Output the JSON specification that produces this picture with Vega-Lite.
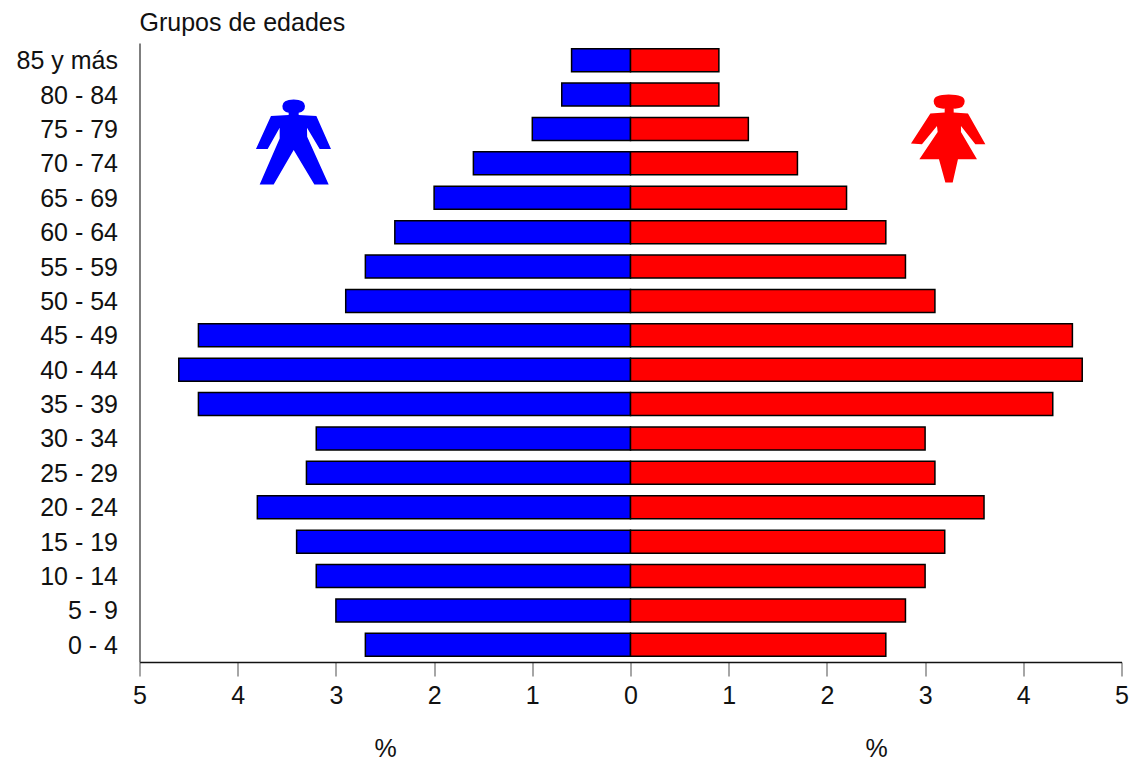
{
"$schema":"https://vega.github.io/schema/vega-lite/v6.json",
"width":982,"height":619,
"autosize":{"type":"none"},
"padding":{"left":139.5,"top":43,"right":8.5,"bottom":96},
"background":"white",
"title":{"text":"Grupos de edades","anchor":"start","frame":"group","font":"Liberation Sans","fontSize":25,"fontWeight":"normal","color":"#111111","offset":7},
"config":{"view":{"stroke":null},"font":"Liberation Sans"},
"datasets":{
"bars":[
{"grupo":"85 y más","sexo":"Hombres","pct":-0.6},{"grupo":"80 - 84","sexo":"Hombres","pct":-0.7},{"grupo":"75 - 79","sexo":"Hombres","pct":-1.0},{"grupo":"70 - 74","sexo":"Hombres","pct":-1.6},{"grupo":"65 - 69","sexo":"Hombres","pct":-2.0},{"grupo":"60 - 64","sexo":"Hombres","pct":-2.4},{"grupo":"55 - 59","sexo":"Hombres","pct":-2.7},{"grupo":"50 - 54","sexo":"Hombres","pct":-2.9},{"grupo":"45 - 49","sexo":"Hombres","pct":-4.4},{"grupo":"40 - 44","sexo":"Hombres","pct":-4.6},{"grupo":"35 - 39","sexo":"Hombres","pct":-4.4},{"grupo":"30 - 34","sexo":"Hombres","pct":-3.2},{"grupo":"25 - 29","sexo":"Hombres","pct":-3.3},{"grupo":"20 - 24","sexo":"Hombres","pct":-3.8},{"grupo":"15 - 19","sexo":"Hombres","pct":-3.4},{"grupo":"10 - 14","sexo":"Hombres","pct":-3.2},{"grupo":"5 - 9","sexo":"Hombres","pct":-3.0},{"grupo":"0 - 4","sexo":"Hombres","pct":-2.7},
{"grupo":"85 y más","sexo":"Mujeres","pct":0.9},{"grupo":"80 - 84","sexo":"Mujeres","pct":0.9},{"grupo":"75 - 79","sexo":"Mujeres","pct":1.2},{"grupo":"70 - 74","sexo":"Mujeres","pct":1.7},{"grupo":"65 - 69","sexo":"Mujeres","pct":2.2},{"grupo":"60 - 64","sexo":"Mujeres","pct":2.6},{"grupo":"55 - 59","sexo":"Mujeres","pct":2.8},{"grupo":"50 - 54","sexo":"Mujeres","pct":3.1},{"grupo":"45 - 49","sexo":"Mujeres","pct":4.5},{"grupo":"40 - 44","sexo":"Mujeres","pct":4.6},{"grupo":"35 - 39","sexo":"Mujeres","pct":4.3},{"grupo":"30 - 34","sexo":"Mujeres","pct":3.0},{"grupo":"25 - 29","sexo":"Mujeres","pct":3.1},{"grupo":"20 - 24","sexo":"Mujeres","pct":3.6},{"grupo":"15 - 19","sexo":"Mujeres","pct":3.2},{"grupo":"10 - 14","sexo":"Mujeres","pct":3.0},{"grupo":"5 - 9","sexo":"Mujeres","pct":2.8},{"grupo":"0 - 4","sexo":"Mujeres","pct":2.6}
],
"iconos":[{"sexo":"Hombres","xp":-3.43,"yp":15.11},{"sexo":"Mujeres","xp":3.24,"yp":15.22}]
},
"resolve":{"scale":{"y":"independent","color":"independent","x":"independent"},"axis":{"x":"independent"}},
"layer":[
{"data":{"name":"bars"},
 "mark":{"type":"bar","height":23,"stroke":"black","strokeWidth":1.5},
 "encoding":{
  "y":{"field":"grupo","type":"nominal","sort":null,"scale":{"paddingInner":0,"paddingOuter":0},
   "axis":{"title":null,"ticks":false,"domainColor":"#555555","domainWidth":1.5,"labelFont":"Liberation Sans","labelFontSize":25,"labelColor":"#111111","labelPadding":22,"labelOffset":1}},
  "x":{"field":"pct","type":"quantitative","scale":{"domain":[-5,5],"nice":false},
   "axis":{"orient":"bottom","title":null,"values":[-5,-4,-3,-2,-1,0,1,2,3,4,5],"labelExpr":"abs(datum.value)","grid":false,"domainColor":"#111111","domainWidth":1.5,"tickColor":"#888888","tickWidth":1.5,"tickSize":14,"labelFont":"Liberation Sans","labelFontSize":25,"labelColor":"#111111","labelPadding":7,"labelFlush":false}},
  "color":{"field":"sexo","type":"nominal","scale":{"domain":["Hombres","Mujeres"],"range":["#0000ff","#ff0000"]},"legend":null}
 }},
{"mark":{"type":"rule","color":"black","strokeWidth":1.5},
 "encoding":{"x":{"datum":0,"scale":{"domain":[-5,5],"nice":false},
  "axis":{"orient":"bottom","title":null,"values":[-2.5,2.5],"labelExpr":"'%'","grid":false,"domain":false,"ticks":false,"labelFont":"Liberation Sans","labelFontSize":25,"labelColor":"#111111","labelPadding":74,"labelFlush":false}}}},
{"data":{"name":"iconos"},
 "mark":{"type":"point","filled":true,"opacity":1,"size":4,"strokeWidth":0},
 "encoding":{
  "x":{"field":"xp","type":"quantitative","scale":{"domain":[-5,5],"nice":false},"axis":null},
  "y":{"field":"yp","type":"quantitative","scale":{"domain":[0,18],"nice":false},"axis":null},
  "color":{"field":"sexo","type":"nominal","scale":{"domain":["Hombres","Mujeres"],"range":["#0000ff","#ff0000"]},"legend":null},
  "shape":{"field":"sexo","type":"nominal","legend":null,"scale":{"domain":["Hombres","Mujeres"],"range":[
   "M-5,-27.3L-5,-29.7Q-11.3,-30.5,-11.3,-36.3Q-11.3,-43,0,-43Q11.3,-43,11.3,-36.3Q11.3,-30.5,5,-29.7L5,-27.3L22.7,-26.3L37.3,6.7L26,6.7L13.3,-14.7L13.5,-5.7L35,42L20.7,42L0,7.7L-20,42L-34,42L-14,-4L-14,-14.7L-26,6.7L-37.7,6.7L-22.7,-26.3Z",
   "M-4,-26L-4,-30Q-15,-29.5,-15,-37.3Q-15,-44,0,-44Q16,-44,16,-37.3Q16,-29.5,5,-30L5,-26L19.3,-25L36.7,5.7L26.7,5.7L12.3,-12.7L12.3,-6.7L28.3,20.7L9.3,20.7L4,44L-3.3,44L-9.7,20.7L-29.3,20.7L-11,-6.7L-11.7,-12.7L-26.7,5.7L-37.7,5L-18.3,-25Z"
  ]}}
 }}
]
}
